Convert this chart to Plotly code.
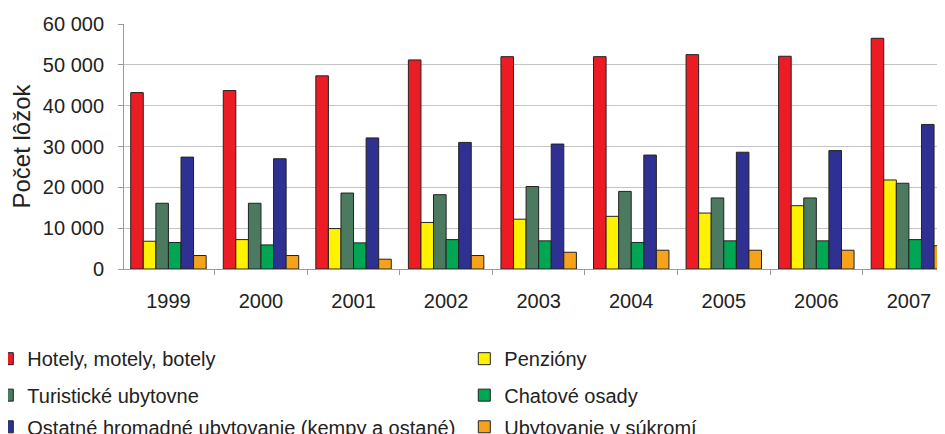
import plotly.graph_objects as go

# Years on the x axis
years = ["1999", "2000", "2001", "2002", "2003", "2004", "2005", "2006", "2007"]

# Beds (počet lôžok) per accommodation type
hotely = [43200, 43700, 47300, 51200, 52000, 52000, 52500, 52100, 56500]
penziony = [6800, 7200, 9900, 11400, 12200, 12900, 13700, 15500, 21800]
turisticke = [16100, 16100, 18600, 18200, 20200, 19000, 17400, 17400, 21000]
chatove = [6500, 5900, 6400, 7200, 6900, 6500, 6900, 6900, 7200]
ostatne = [27400, 27000, 32100, 31000, 30600, 27900, 28600, 29000, 35400]
sukromie = [3300, 3300, 2400, 3300, 4100, 4600, 4600, 4600, 5700]

y_ticks = [0, 10000, 20000, 30000, 40000, 50000, 60000]
y_tick_labels = ["0", "10 000", "20 000", "30 000", "40 000", "50 000", "60 000"]

# name, values, colour, legend column, legend row
series = [
    ("Hotely, motely, botely", hotely, "#EC1C24", 0, 0),
    ("Penzióny", penziony, "#FFF200", 1, 0),
    ("Turistické ubytovne", turisticke, "#4B7A60", 0, 1),
    ("Chatové osady", chatove, "#00A651", 1, 1),
    ("Ostatné hromadné ubytovanie (kempy a ostané)", ostatne, "#2E3192", 0, 2),
    ("Ubytovanie v súkromí", sukromie, "#F7A21B", 1, 2),
]

text_font = "Liberation Sans, Arial, sans-serif"
# two legend columns (paper x) and three rows (container y)
col_x = [-0.1665, 0.4145]
row_y = [0.192, 0.108, 0.035]

fig = go.Figure()
legends = {}
for i, (name, vals, color, col, row) in enumerate(series):
    key = "legend" if i == 0 else f"legend{i + 1}"
    fig.add_trace(go.Bar(
        x=years, y=vals, name=name, legend=key,
        marker=dict(color=color, line=dict(color="#222222", width=1)),
    ))
    legends[key] = dict(
        xref="paper", yref="container",
        x=col_x[col], y=row_y[row], xanchor="left", yanchor="middle",
        font=dict(family=text_font, size=20, color="#222222"),
        bgcolor="rgba(0,0,0,0)", itemclick=False, itemdoubleclick=False,
    )

fig.update_layout(
    width=945, height=434,
    margin=dict(l=116, r=8, t=16, b=173, autoexpand=False),
    paper_bgcolor="white", plot_bgcolor="white",
    font=dict(family=text_font, size=20, color="#222222"),
    barmode="group", bargap=0.185, bargroupgap=0,
    showlegend=True,
    xaxis=dict(
        range=[-0.48, 8.39],
        showline=True, linecolor="#9A9A9A", linewidth=1,
        ticks="outside", tickson="boundaries", ticklen=5, tickcolor="#9A9A9A",
        showgrid=False, ticklabelstandoff=14,
    ),
    yaxis=dict(
        range=[0, 60000],
        tickvals=y_ticks, ticktext=y_tick_labels,
        showline=True, linecolor="#9A9A9A", linewidth=1,
        ticks="outside", ticklen=5, tickcolor="#9A9A9A",
        showgrid=True, gridcolor="#C4C4C4", gridwidth=1,
        zeroline=False, ticklabelstandoff=10,
        title=dict(text="Počet lôžok", standoff=8),
    ),
    **legends,
)

fig.write_html("out.html")
